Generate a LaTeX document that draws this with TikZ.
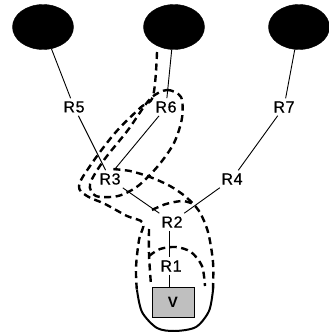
\documentclass[tikz,border=0pt]{standalone}
\usepackage{fontspec}
\setmainfont{Liberation Sans}
\usetikzlibrary{shapes.geometric,arrows.meta}
\tikzset{
  blob/.style={ellipse,fill=black,draw=black,minimum width=61pt,minimum height=45pt,inner sep=0pt},
  lab/.style={font=\fontsize{16}{16}\selectfont\addfontfeatures{LetterSpace=4,FakeBold=0.6},inner sep=3pt},
  conn/.style={line width=0.9pt},
  dsh/.style={line width=2.4pt,dash pattern=on 7pt off 4.5pt},
  solidb/.style={line width=2.0pt},
  vbox/.style={draw=black,line width=1pt,fill=gray!50,minimum width=42pt,minimum height=30pt,inner sep=0pt,font=\fontsize{15}{15}\selectfont\bfseries}
}
\begin{document}
\begin{tikzpicture}[x=1pt,y=-1pt]
\fill[white] (0,0) rectangle (329,332);
\useasboundingbox (0,0) rectangle (329,332);
% top ellipses
\node[blob] (e1) at (43,27) {};
\node[blob] (e2) at (174,27) {};
\node[blob] (e3) at (299,27) {};
% labels
\node[lab] (R5) at (74,107) {R5};
\node[lab] (R6) at (166,107) {R6};
\node[lab] (R7) at (284,107) {R7};
\node[lab] (R3) at (110,179) {R3};
\node[lab] (R4) at (232,179) {R4};
\node[lab] (R2) at (172,222) {R2};
\node[lab] (R1) at (171,266) {R1};
\node[vbox] (V) at (173,302) {V};
% connectors
\draw[conn] (e1) -- (R5);
\draw[conn] (e2) -- (R6);
\draw[conn] (e3) -- (R7);
\draw[conn] (R5) -- (R3);
\draw[conn] ([xshift=-7pt]R6.south) -- ([xshift=4pt]R3.north);
\draw[conn] (R7) -- (R4);
\draw[conn] (R4) -- (R2);
\draw[conn] (R3) -- (R2);
\draw[conn] ([xshift=-3pt]R2.south) -- ([xshift=-2pt]R1.north);
\draw[conn] ([xshift=-2pt]R1.south) -- ([xshift=-4pt]V.north);
% dashed regions / route
\draw[dsh] plot[smooth, tension=0.6] coordinates {(157,52) (153,96) (140,108) (115,133) (90,166) (79,186) (87,196) (105,204) (127,216) (143,223) (139,240) (136,268) (137,292)};
\draw[solidb] plot[smooth] coordinates {(137,290) (142,312) (157,328) (175,331) (196,327) (209,311) (213,290)};
\draw[dsh] plot[smooth] coordinates {(213,290) (213,262) (208,232) (199,211) (186,197) (170,186) (150,177) (130,171) (112,169)};
\draw[dsh] plot[smooth cycle] coordinates {(150,99) (167,90) (181,97) (182,118) (174,143) (158,166) (138,186) (118,196) (96,196) (90,184) (104,160) (128,130)};
\draw[dsh] plot[smooth] coordinates {(152,210) (166,204) (183,201) (196,205)};
\draw[dsh] plot[smooth] coordinates {(149,229) (149,255) (151,285)};
\draw[dsh] plot[smooth] coordinates {(149,256) (160,249) (176,247) (191,252) (202,266) (205,286)};
\end{tikzpicture}
\end{document}
